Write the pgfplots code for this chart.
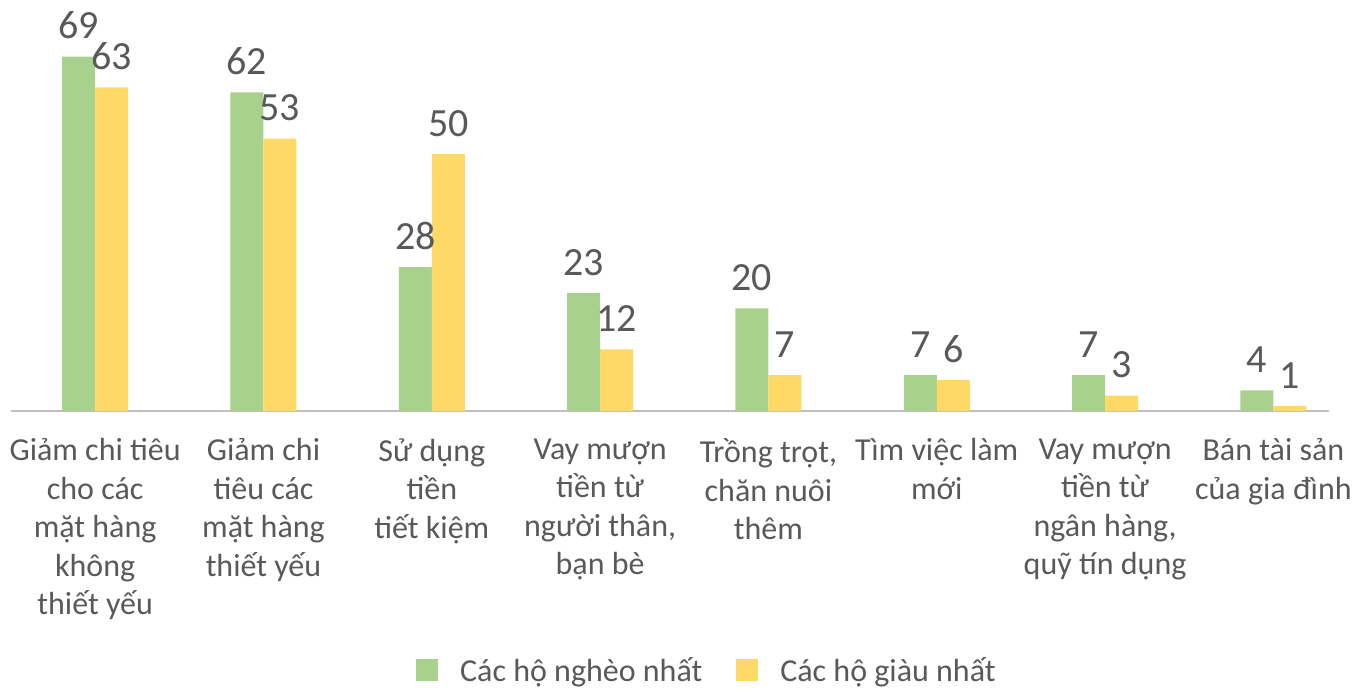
\documentclass[border=0pt]{standalone}
\usepackage{pgfplots}
\pgfplotsset{compat=1.18}
\usepackage{fontspec}
\setmainfont{Carlito}
\definecolor{cgreen}{HTML}{A9D18E}
\definecolor{cyellow}{HTML}{FFD966}
\definecolor{ctext}{HTML}{595959}
\definecolor{caxis}{HTML}{BFBFBF}
\begin{document}
\begin{tikzpicture}
\begin{axis}[
  name=ax,
  scale only axis,
  width=1318pt, height=411pt,
  xmin=-0.5, xmax=7.33,
  ymin=0, ymax=80,
  axis x line*=bottom,
  axis y line=none,
  x axis line style={draw=caxis, line width=1.5pt, -},
  xtick={0,1,2,3,4,5,6,7},
  major tick length=0pt,
  xticklabels={
    {Giảm chi tiêu\\cho các\\mặt hàng\\không\\thiết yếu},
    {Giảm chi\\tiêu các\\mặt hàng\\thiết yếu},
    {Sử dụng\\tiền\\tiết kiệm},
    {Vay mượn\\tiền từ\\người thân,\\bạn bè},
    {Trồng trọt,\\chăn nuôi\\thêm},
    {Tìm việc làm\\mới},
    {Vay mượn\\tiền từ\\ngân hàng,\\quỹ tín dụng},
    {Bán tài sản\\của gia đình}},
  xticklabel style={align=center, font=\fontsize{32}{38.5}\selectfont, text=ctext, anchor=north, yshift=-24pt},
  ybar, bar width=33pt,
  /pgf/number format/assume math mode=true,
  nodes near coords,
  nodes near coords style={font=\fontsize{40}{42}\selectfont, text=ctext, yshift=14pt},
  legend style={at={(0.528,-0.63)}, anchor=center, draw=none, font=\fontsize{32}{34}\selectfont, text=ctext,
    legend columns=2, /tikz/every odd column/.append style={column sep=20pt},
    /tikz/every even column/.append style={column sep=32pt}},
  legend image code/.code={\fill[#1] (0pt,-11pt) rectangle (22pt,11pt);},
]
\addplot[fill=cgreen, draw=none, bar shift=-16.5pt] coordinates {(0,69) (1,62) (2,28) (3,23) (4,20) (5,7) (6,7) (7,4)};
\addplot[fill=cyellow, draw=none, bar shift=16.5pt] coordinates {(0,63) (1,53) (2,50) (3,12) (4,7) (5,6) (6,3) (7,1)};
\legend{Các hộ nghèo nhất, Các hộ giàu nhất}
\end{axis}
\pgfresetboundingbox
\path[use as bounding box] ([xshift=-11pt,yshift=-280pt]ax.south west) rectangle ([xshift=1344pt]ax.north west);
\end{tikzpicture}
\end{document}
